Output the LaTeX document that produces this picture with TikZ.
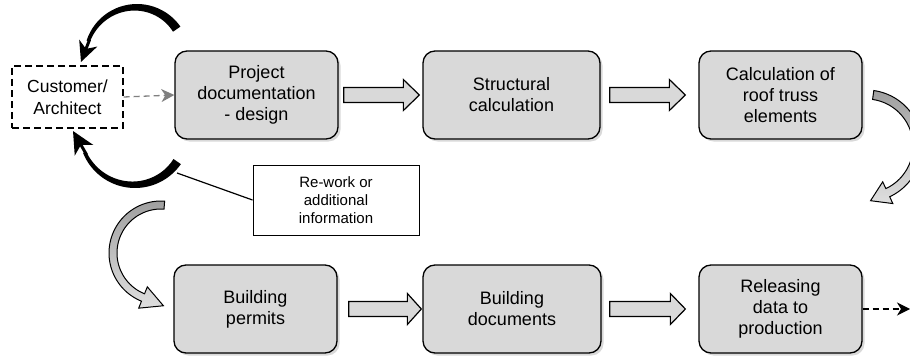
\documentclass[tikz,border=0pt]{standalone}
\usepackage{fontspec}
\setmainfont{Liberation Sans}
\usetikzlibrary{shadows,arrows.meta,calc}
\definecolor{boxfill}{RGB}{217,217,217}
\definecolor{arrgray}{RGB}{160,160,160}
\definecolor{dashgray}{RGB}{128,128,128}
\newcommand{\blkarrow}[5]{%
  \draw[blockarrow] ($(#1.east)+(#3,7.5)$) -- ($(#2.west)+(-#4,7.5)$) -- ($(#2.west)+(-#4,15.5)$) -- ($(#2.west)+(-#5,0)$) -- ($(#2.west)+(-#4,-15.5)$) -- ($(#2.west)+(-#4,-7.5)$) -- ($(#1.east)+(#3,-7.5)$) -- cycle;}
\begin{document}
\begin{tikzpicture}[x=1pt,y=1pt,
  stage/.style={draw=black, line width=1.3pt, fill=boxfill, rounded corners=12pt,
    align=center, inner sep=0pt, minimum height=88pt,
    font=\fontsize{18}{21}\selectfont,
    drop shadow={shadow xshift=2.5pt,shadow yshift=-2.5pt,opacity=0.3}},
  blockarrow/.style={draw=black, line width=1.2pt, fill=boxfill, line join=miter},
  grayarrow/.style={draw=black, line width=1pt, top color=arrgray, bottom color=boxfill!85, line join=miter},
  custbox/.style={draw=black, line width=1.3pt, dash pattern=on 7pt off 4pt, minimum width=111pt,
    minimum height=62pt, inner sep=0pt, align=center, font=\fontsize{17.5}{22}\selectfont},
  notebox/.style={draw=black, line width=1pt, fill=white, minimum width=166pt, minimum height=70pt,
    inner sep=0pt, align=center, font=\fontsize{15}{18}\selectfont},
  dasharrow/.style={line width=1.3pt, dash pattern=on 6pt off 4pt, -{Stealth[length=13pt,width=13pt,inset=4pt]}}
]
\useasboundingbox (0,0) rectangle (910,-361);
\clip (0,0) rectangle (910,-361);

% stages
\node[stage, minimum width=163pt] (b1) at (256.5,-95) {Project\\documentation\\- design};
\node[stage, minimum width=177pt] (b2) at (511.5,-95) {Structural\\calculation};
\node[stage, minimum width=163pt] (b3) at (780.5,-95) {Calculation of\\roof truss\\elements};
\node[stage, minimum width=163pt] (b4) at (255.5,-309) {Building\\permits};
\node[stage, minimum width=178pt] (b5) at (512,-309) {Building\\documents};
\node[stage, minimum width=163pt] (b6) at (780.5,-309) {Releasing\\data to\\production};

\node[custbox] (cust) at (67.5,-97) {Customer/\\Architect};
\node[notebox] (rw) at (336,-200) {Re-work or\\additional\\information};

% block arrows
\blkarrow{b1}{b2}{5}{19}{3}
\blkarrow{b2}{b3}{9}{29}{13}
\blkarrow{b4}{b5}{11}{15}{1}
\blkarrow{b5}{b6}{8}{28}{13}

% dashed arrows
\draw[dasharrow, dashgray] (cust.east) -- (b1.west);
\coordinate (outr) at (910,-309);
\draw[dasharrow, black] (b6.east) -- (outr);

% upper black curved arrow
\coordinate (uc) at (137,-57);
\fill[black] plot[domain=0:1, samples=50, variable=\s] ({137+53*cos(35+127*\s)},{-57+53*sin(35+127*\s)})
  -- plot[domain=0:1, samples=50, variable=\s] ({137+(53-(3.5+5.5*\s))*cos(162-127*\s)},{-57+(53-(3.5+5.5*\s))*sin(162-127*\s)}) -- cycle;
\coordinate (uh) at ($(uc)+(160:50.5)$);
\coordinate (ut) at (81,-62);
\draw[line width=3pt, -{Stealth[length=20pt,width=19pt,inset=6pt]}] (uh) -- (ut);

% lower black curved arrow
\coordinate (lc) at (135,-132);
\fill[black] plot[domain=0:1, samples=50, variable=\s] ({135+56*cos(-35-123*\s)},{-132+56*sin(-35-123*\s)})
  -- plot[domain=0:1, samples=50, variable=\s] ({135+(56-(3.5+5.5*\s))*cos(-158+123*\s)},{-132+(56-(3.5+5.5*\s))*sin(-158+123*\s)}) -- cycle;
\coordinate (lh) at ($(lc)+(-155:53.5)$);
\coordinate (lt) at (73,-131);
\draw[line width=3pt, -{Stealth[length=22pt,width=21pt,inset=6pt]}] (lh) -- (lt);

% connector to note
\coordinate (arcpt) at (177,-173);
\draw[line width=1.2pt] (arcpt) -- (rw.west);

% left gray curved block arrow
\coordinate (gc) at (161,-253);
\draw[grayarrow] plot[domain=0:1, samples=50, variable=\s] ({161+52*cos(86+162*\s)},{-253+52*sin(86+162*\s)})
  -- ($(gc)+(248:59.5)$) -- ($(gc)+(248:48)+(338:22)$) -- ($(gc)+(248:36.5)$)
  -- plot[domain=0:1, samples=50, variable=\s] ({161+44*cos(248-162*\s)},{-253+44*sin(248-162*\s)}) -- cycle;

% right gray curved block arrow
\coordinate (rc) at (866,-146);
\draw[grayarrow] plot[domain=0:1, samples=50, variable=\s] ({866+56*cos(82-147*\s)},{-146+56*sin(82-147*\s)})
  -- ($(rc)+(-65:63.5)$) -- ($(rc)+(-65:51.5)+(-155:19)$) -- ($(rc)+(-65:39.5)$)
  -- plot[domain=0:1, samples=50, variable=\s] ({866+47*cos(-65+147*\s)},{-146+47*sin(-65+147*\s)}) -- cycle;
\end{tikzpicture}
\end{document}
